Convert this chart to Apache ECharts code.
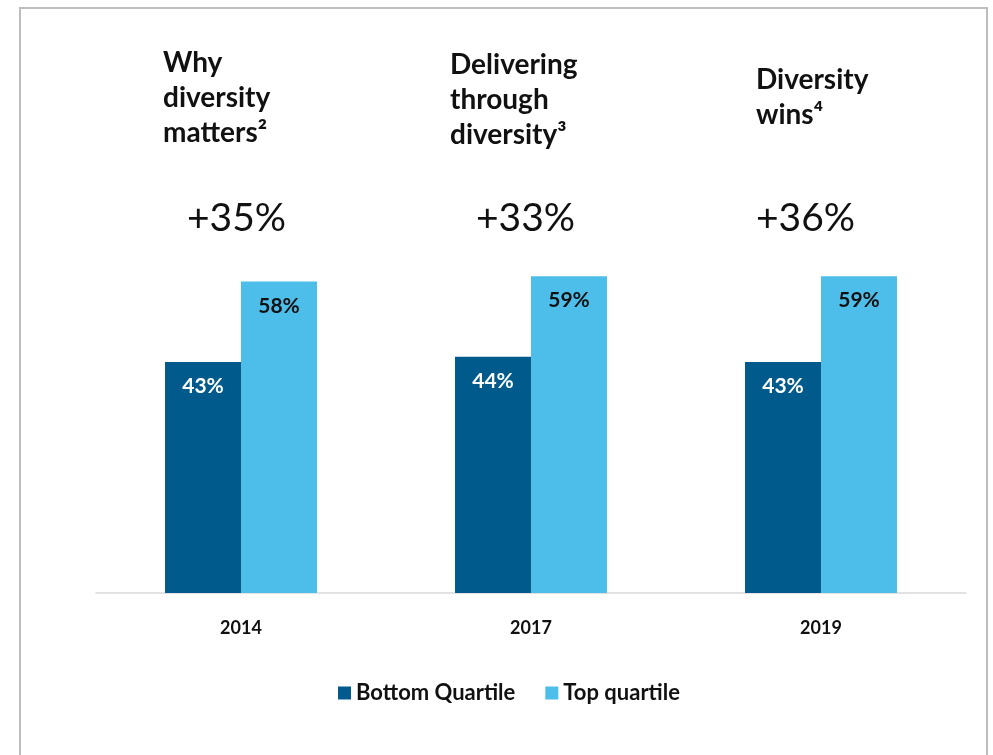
<!DOCTYPE html>
<html>
<head>
<meta charset="utf-8">
<style>
  html, body { margin: 0; padding: 0; background: #ffffff; }
  #chart { width: 993px; height: 755px; }
</style>
<script src="https://cdn.jsdelivr.net/npm/echarts@6/dist/echarts.min.js"></script>
</head>
<body>
<div id="chart"></div>
<script>
// Study years and the share of companies outperforming, by diversity quartile
const years = ['2014', '2017', '2019'];
const bottomQuartile = [43, 44, 43];
const topQuartile = [58, 59, 59];
const studyTitles = ['Why\ndiversity\nmatters²', 'Delivering\nthrough\ndiversity³', 'Diversity\nwins⁴'];
const uplift = ['+35%', '+33%', '+36%'];

const DARK = '#005a8c';
const LIGHT = '#4dbdea';
const FONT = 'Lato, "Open Sans", sans-serif';

const chart = echarts.init(document.getElementById('chart'));

const titleLayout = [
  { left: 158, top: 40 },
  { left: 445, top: 42 },
  { left: 751, top: 57 }
];
const upliftLayout = [
  { left: 182, top: 194 },
  { left: 471, top: 194 },
  { left: 751, top: 194 }
];

const titles = [];
studyTitles.forEach((t, i) => {
  titles.push({
    text: t,
    left: titleLayout[i].left,
    top: titleLayout[i].top,
    textStyle: { fontFamily: FONT, fontSize: 28, fontWeight: 'bold', color: '#111', lineHeight: 35 }
  });
});
uplift.forEach((t, i) => {
  titles.push({
    text: t,
    left: upliftLayout[i].left,
    top: upliftLayout[i].top,
    textStyle: { fontFamily: FONT, fontSize: 39, fontWeight: 'normal', color: '#111' }
  });
});

chart.setOption({
  backgroundColor: '#ffffff',
  animation: false,
  title: titles,
  graphic: [{
    type: 'rect',
    shape: { x: 20, y: 8, width: 967, height: 760 },
    style: { fill: 'none', stroke: '#bdbdbd', lineWidth: 2 },
    silent: true
  }],
  grid: { left: 96, right: 27, top: 56, bottom: 162 },
  legend: {
    top: 677,
    left: 333,
    itemWidth: 13,
    itemHeight: 13,
    itemGap: 30,
    icon: 'rect',
    textStyle: { fontFamily: FONT, fontSize: 22, fontWeight: 'bold', color: '#111' },
    data: ['Bottom Quartile', 'Top quartile']
  },
  xAxis: {
    type: 'category',
    data: years,
    axisLine: { lineStyle: { color: '#d9d9d9', width: 1.5 } },
    axisTick: { show: false },
    axisLabel: { margin: 26, fontFamily: FONT, fontSize: 18, fontWeight: 'bold', color: '#111' }
  },
  yAxis: {
    type: 'value',
    min: 0,
    max: 100,
    show: false
  },
  series: [
    {
      name: 'Bottom Quartile',
      type: 'bar',
      data: bottomQuartile,
      barGap: '0%',
      barCategoryGap: '47.6%',
      itemStyle: { color: DARK },
      label: {
        show: true,
        position: 'insideTop',
        distance: 14,
        formatter: '{c}%',
        fontFamily: FONT,
        fontSize: 21,
        fontWeight: 'bold',
        color: '#ffffff'
      }
    },
    {
      name: 'Top quartile',
      type: 'bar',
      data: topQuartile,
      itemStyle: { color: LIGHT },
      label: {
        show: true,
        position: 'insideTop',
        distance: 14,
        formatter: '{c}%',
        fontFamily: FONT,
        fontSize: 21,
        fontWeight: 'bold',
        color: '#111'
      }
    }
  ]
});
</script>
</body>
</html>
